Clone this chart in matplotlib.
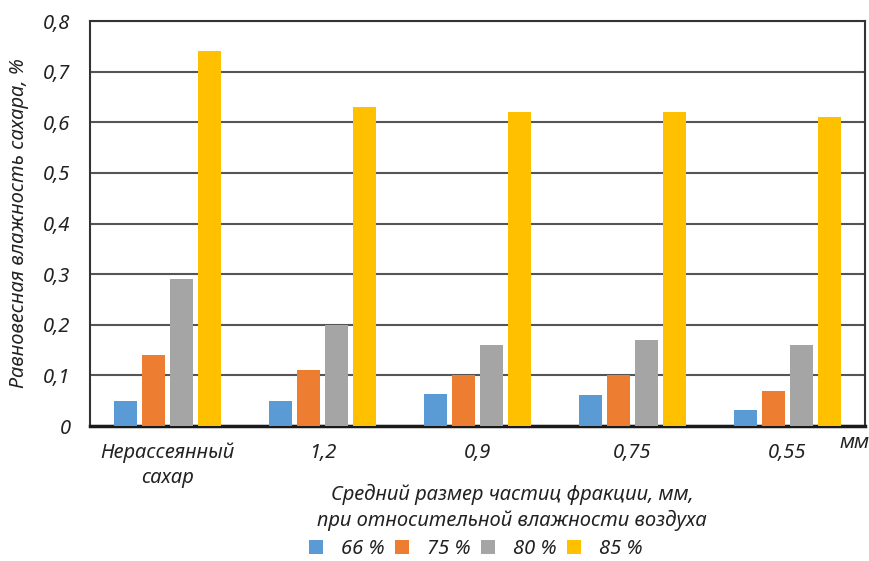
import matplotlib
matplotlib.use('Agg')
import matplotlib.pyplot as plt
import numpy as np

# equilibrium moisture of sugar (%) by fraction size, per air humidity level
CATEGORIES = ['Нерассеянный\nсахар', '1,2', '0,9', '0,75', '0,55']
HUMIDITY = ['66 %', '75 %', '80 %', '85 %']
H66 = [0.05, 0.05, 0.063, 0.061, 0.032]
H75 = [0.14, 0.11, 0.10, 0.10, 0.07]
H80 = [0.29, 0.20, 0.16, 0.17, 0.16]
H85 = [0.74, 0.63, 0.62, 0.62, 0.61]
COLORS = ['#5B9BD5', '#ED7D31', '#A5A5A5', '#FFC000']
YTICKS = [0, 0.1, 0.2, 0.3, 0.4, 0.5, 0.6, 0.7, 0.8]

plt.rcParams['font.family'] = ['Noto Sans', 'DejaVu Sans']
plt.rcParams['font.style'] = 'italic'
FS = 14.5
INK = '#222222'

fig = plt.figure(figsize=(8.7, 5.61), dpi=100)
ax = fig.add_axes([0.1034, 0.2406, 0.8908, 0.7219])

x = np.arange(len(CATEGORIES))
width = 0.148
step = 0.18
for i, (vals, c, lab) in enumerate(zip([H66, H75, H80, H85], COLORS, HUMIDITY)):
    ax.bar(x + (i - 1.5) * step, vals, width, color=c, label=lab, zorder=3)

ax.set_xlim(-0.5, len(CATEGORIES) - 0.5)
ax.set_ylim(0, 0.8)
ax.set_yticks(YTICKS)
ax.set_yticklabels([('%g' % v).replace('.', ',') for v in YTICKS], fontsize=FS, color=INK)
ax.set_xticks(x)
ax.set_xticklabels(CATEGORIES, fontsize=FS, color=INK, linespacing=1.35)
ax.tick_params(length=0, axis='both')
ax.tick_params(axis='x', pad=12)
ax.tick_params(axis='y', pad=14)
ax.grid(axis='y', color='#555555', lw=1.5, zorder=1)
for s in ax.spines.values():
    s.set_color('#333333')
    s.set_linewidth(1.5)
ax.spines['bottom'].set_color('#1a1a1a')
ax.spines['bottom'].set_linewidth(2.5)

ax.set_ylabel('Равновесная влажность сахара, %', fontsize=FS, color=INK, labelpad=10)
fig.text(855 / 870, 1 - 443 / 561, 'мм', fontsize=FS, ha='center', va='center', color=INK)
fig.text(512 / 870, 1 - 507 / 561,
         'Средний размер частиц фракции, мм,\nпри относительной влажности воздуха',
         fontsize=FS, ha='center', va='center', color=INK, linespacing=1.3)

fig.legend(loc='center', bbox_to_anchor=(476 / 870, 1 - 549 / 561), ncol=4, frameon=False,
           fontsize=FS, handlelength=0.7, handleheight=0.7, handletextpad=0.9,
           columnspacing=0.5, labelcolor=INK, borderpad=0)

fig.savefig('out.png', dpi=100)
